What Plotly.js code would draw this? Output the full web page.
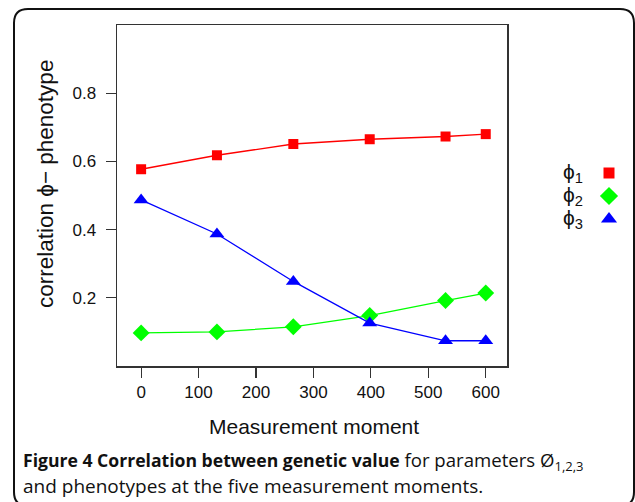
<!DOCTYPE html>
<html>
<head>
<meta charset="utf-8">
<script src="https://cdn.plot.ly/plotly-3.0.1.min.js"></script>
<style>
html,body{margin:0;padding:0;background:#fff;}
#chart{width:635px;height:502px;}
</style>
</head>
<body>
<div id="chart"></div>
<script>
// ---- data ----
var moments = [0, 132, 265, 398, 530, 600];
var phi1 = [0.577, 0.618, 0.651, 0.665, 0.673, 0.680];
var phi2 = [0.097, 0.100, 0.115, 0.148, 0.192, 0.214];
var phi3 = [0.487, 0.387, 0.248, 0.126, 0.074, 0.074];
var seriesNames = ['ϕ<sub>1</sub>', 'ϕ<sub>2</sub>', 'ϕ<sub>3</sub>'];
var xTicks = [0, 100, 200, 300, 400, 500, 600];
var yTicks = [0.2, 0.4, 0.6, 0.8];

// ---- styling ----
var W = 635, H = 502;
var plotL = 117, plotR = 507, plotT = 25, plotB = 366;
var colors = ['#ff0000', '#00ff00', '#0000ff'];
var symbols = ['square', 'diamond', 'triangle-up'];
var msizes = [10, 13, 13];
var axisFont = {family: 'Liberation Sans, Arial, sans-serif', size: 17, color: '#111'};

var seriesY = [phi1, phi2, phi3];
var traces = [];
for (var i = 0; i < 3; i++) {
  traces.push({
    x: moments, y: seriesY[i], type: 'scatter', mode: 'lines+markers',
    line: {color: colors[i], width: 1.3},
    marker: {color: colors[i], symbol: symbols[i], size: msizes[i], line: {width: 0}},
    xaxis: 'x', yaxis: 'y', showlegend: false, hoverinfo: 'skip'
  });
}
// legend markers on a pixel-coordinate overlay axis
var legX = 609, legY = [173, 196, 219];
for (var j = 0; j < 3; j++) {
  traces.push({
    x: [legX], y: [legY[j]], type: 'scatter', mode: 'markers',
    marker: {color: colors[j], symbol: symbols[j], size: msizes[j] + 1, line: {width: 0}},
    xaxis: 'x2', yaxis: 'y2', showlegend: false, hoverinfo: 'skip'
  });
}

var annotations = [];
for (var k = 0; k < 3; k++) {
  annotations.push({
    xref: 'x2', yref: 'y2', x: 561, y: legY[k], xanchor: 'left', yanchor: 'middle',
    text: seriesNames[k], showarrow: false,
    font: {family: 'Liberation Sans, Arial, sans-serif', size: 21, color: '#111'}
  });
}
annotations.push({
  xref: 'x2', yref: 'y2', x: 45, y: 184, textangle: -90,
  text: 'correlation ϕ− phenotype', showarrow: false, xanchor: 'center', yanchor: 'middle',
  font: {family: 'Liberation Sans, Arial, sans-serif', size: 22.5, color: '#111'}
});
annotations.push({
  xref: 'x2', yref: 'y2', x: 314, y: 426,
  text: 'Measurement moment', showarrow: false, xanchor: 'center', yanchor: 'middle',
  font: {family: 'Liberation Sans, Arial, sans-serif', size: 21, color: '#111'}
});
annotations.push({
  xref: 'x2', yref: 'y2', x: 21, y: 461, xanchor: 'left', yanchor: 'middle',
  text: '<b>Figure 4 Correlation between genetic value</b><span style="font-size:18.6px"> for parameters Ø<sub>1,2,3</sub></span>',
  showarrow: false, font: {family: 'Open Sans, sans-serif', size: 17.6, color: '#111'}
});
annotations.push({
  xref: 'x2', yref: 'y2', x: 21, y: 486, xanchor: 'left', yanchor: 'middle',
  text: 'and phenotypes at the five measurement moments.',
  showarrow: false, font: {family: 'Open Sans, sans-serif', size: 19, color: '#111'}
});

// rounded frame path in pixel coordinates
var fx0 = 14, fy0 = 9, fx1 = 634, fy1 = 506, r = 14;
var framePath = 'M' + (fx0 + r) + ',' + fy0 + ' L' + (fx1 - r) + ',' + fy0 +
  ' Q' + fx1 + ',' + fy0 + ' ' + fx1 + ',' + (fy0 + r) +
  ' L' + fx1 + ',' + (fy1 - r) + ' Q' + fx1 + ',' + fy1 + ' ' + (fx1 - r) + ',' + fy1 +
  ' L' + (fx0 + r) + ',' + fy1 + ' Q' + fx0 + ',' + fy1 + ' ' + fx0 + ',' + (fy1 - r) +
  ' L' + fx0 + ',' + (fy0 + r) + ' Q' + fx0 + ',' + fy0 + ' ' + (fx0 + r) + ',' + fy0 + ' Z';

var layout = {
  width: W, height: H,
  margin: {l: 0, r: 0, t: 0, b: 0},
  paper_bgcolor: '#fff', plot_bgcolor: 'rgba(0,0,0,0)',
  showlegend: false,
  xaxis: {
    domain: [plotL / W, plotR / W], range: [-42, 637], anchor: 'y',
    tickmode: 'array', tickvals: xTicks, ticktext: xTicks.map(String),
    ticks: 'outside', ticklen: 10, tickwidth: 1.2, tickcolor: '#333',
    showline: true, mirror: true, linecolor: '#333', linewidth: 1.5,
    showgrid: false, zeroline: false, automargin: false,
    tickfont: axisFont, ticklabelstandoff: 0
  },
  yaxis: {
    domain: [1 - plotB / H, 1 - plotT / H], range: [0, 1], anchor: 'x',
    tickmode: 'array', tickvals: yTicks, ticktext: yTicks.map(function (v) { return v.toFixed(1); }),
    ticks: 'outside', ticklen: 10, tickwidth: 1.2, tickcolor: '#333',
    showline: true, mirror: true, linecolor: '#333', linewidth: 1.5,
    showgrid: false, zeroline: false, automargin: false,
    tickfont: axisFont, ticklabelstandoff: 6
  },
  xaxis2: {domain: [0, 1], range: [0, W], anchor: 'y2', visible: false, fixedrange: true},
  yaxis2: {domain: [0, 1], range: [H, 0], anchor: 'x2', visible: false, fixedrange: true},
  annotations: annotations,
  shapes: [{type: 'path', xref: 'x2', yref: 'y2', path: framePath,
            line: {color: '#111', width: 2}, fillcolor: 'rgba(0,0,0,0)', layer: 'above'}]
};

Plotly.newPlot('chart', traces, layout, {staticPlot: true, displayModeBar: false});
</script>
</body>
</html>
